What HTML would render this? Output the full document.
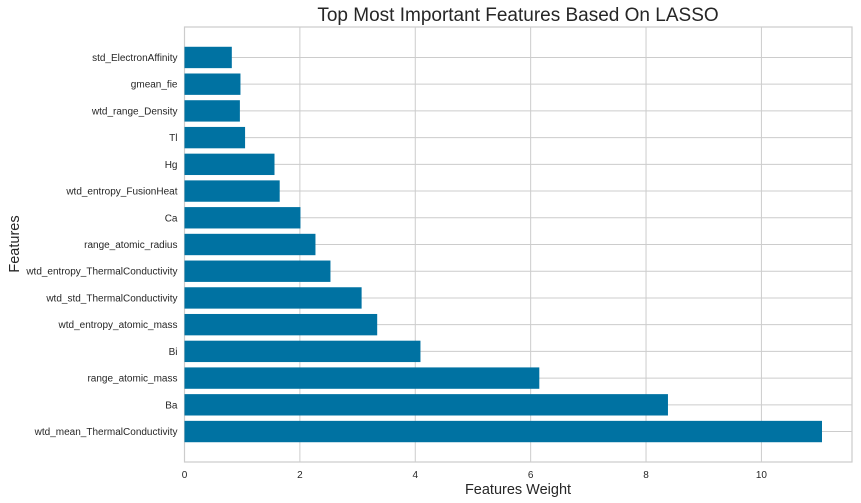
<!DOCTYPE html>
<html><head><meta charset="utf-8"><style>
body{margin:0;background:#fff;}
svg{display:block;font-family:"Liberation Sans",sans-serif;}
</style></head><body>
<svg id="chart" width="861" height="503" xmlns="http://www.w3.org/2000/svg">
<rect x="0" y="0" width="861" height="503" fill="#fff"/>
<g id="grid"></g><g id="bars"></g><g id="labels"></g>
<text x="518" y="21" font-size="19" text-anchor="middle" fill="#262626">Top Most Important Features Based On LASSO</text>
<text x="518" y="494" font-size="14.5" text-anchor="middle" fill="#262626">Features Weight</text>
<text transform="translate(19,244) rotate(-90)" font-size="14.5" text-anchor="middle" fill="#262626">Features</text>
</svg>
<script>
const features=["wtd_mean_ThermalConductivity","Ba","range_atomic_mass","Bi","wtd_entropy_atomic_mass","wtd_std_ThermalConductivity","wtd_entropy_ThermalConductivity","range_atomic_radius","Ca","wtd_entropy_FusionHeat","Hg","Tl","wtd_range_Density","gmean_fie","std_ElectronAffinity"];
const weights=[11.05,8.38,6.15,4.09,3.34,3.07,2.53,2.27,2.01,1.65,1.56,1.05,0.96,0.97,0.82];
const xTicks=[0,2,4,6,8,10];
const L=184.5,R=852,T=27,B=462;
const xmax=11.57,ymin=-1.14,ymax=14+1.14;
const xs=v=>L+v/xmax*(R-L);
const ys=i=>B-(i-ymin)/(ymax-ymin)*(B-T);
const NS="http://www.w3.org/2000/svg";
function mk(tag,attrs,parent){const e=document.createElementNS(NS,tag);for(const k in attrs)e.setAttribute(k,attrs[k]);document.getElementById(parent).appendChild(e);return e;}
xTicks.forEach(t=>{
 const g=mk("line",{x1:xs(t),x2:xs(t),y1:T,y2:B,stroke:"#cccccc","stroke-width":1},"grid");
 
 
 const tx=mk("text",{x:xs(t),y:B+16,"font-size":"10","text-anchor":"middle",fill:"#262626"},"labels");
 tx.textContent=t;
 
 
});
features.forEach((f,i)=>{
 const g=mk("line",{x1:L,x2:R,y1:ys(i),y2:ys(i),stroke:"#cccccc","stroke-width":1},"grid");
 
 
});
mk("rect",{x:L,y:T,width:R-L,height:B-T,fill:"none",stroke:"#cccccc","stroke-width":1.2},"grid");
features.forEach((f,i)=>{
 const h=0.8*(ys(0)-ys(1));
 const b=mk("rect",{x:L,y:ys(i)-h/2,width:xs(weights[i])-L,height:h,fill:"#0072a2"},"bars");
 
 
 const t=mk("text",{x:L-7,y:ys(i)+3.5,"font-size":"10","text-anchor":"end",fill:"#262626"},"labels");
 t.textContent=f;
 
 
});
</script>
</body></html>
